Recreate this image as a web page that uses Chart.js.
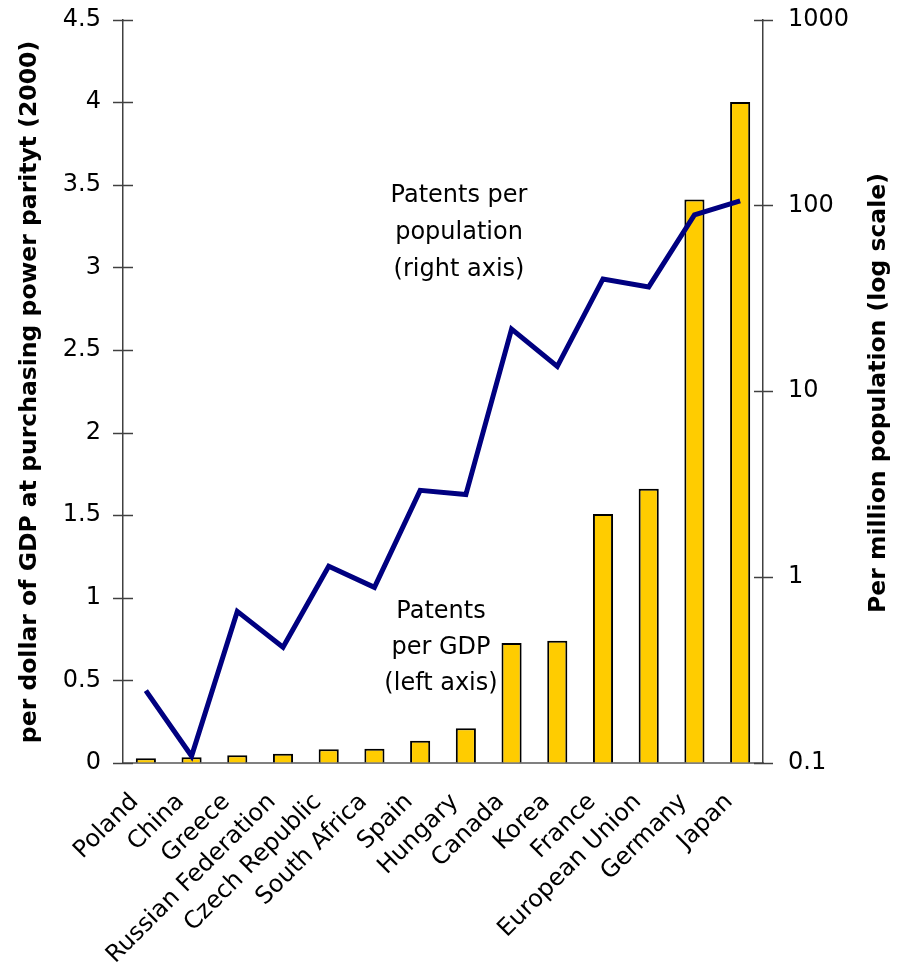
<!DOCTYPE html>
<html>
<head>
<meta charset="utf-8">
<script src="https://cdn.jsdelivr.net/npm/chart.js@4.4.1/dist/chart.umd.min.js"></script>
<style>
  html, body { margin: 0; padding: 0; background: #ffffff; }
  #wrap { width: 898px; height: 980px; position: relative; }
</style>
</head>
<body>
<div id="wrap"><canvas id="chart" width="898" height="980"></canvas></div>
<script>
// Countries along the x axis
const countries = ['Poland', 'China', 'Greece', 'Russian Federation', 'Czech Republic',
  'South Africa', 'Spain', 'Hungary', 'Canada', 'Korea', 'France',
  'European Union', 'Germany', 'Japan'];

// Patents per dollar of GDP at PPP (2000) – left axis, bars
const patentsPerGdp = [0.028, 0.035, 0.047, 0.056, 0.083, 0.087, 0.135, 0.21,
  0.727, 0.74, 1.507, 1.66, 3.41, 4.0];

// Patents per million population – right axis (log), line
const patentsPerPopulation = [0.245, 0.109, 0.654, 0.42, 1.143, 0.881, 2.93, 2.78,
  21.6, 13.6, 40.2, 36.4, 88.9, 105.7];

// Tick values
const leftTicks = [0, 0.5, 1, 1.5, 2, 2.5, 3, 3.5, 4, 4.5];
const rightTicks = [0.1, 1, 10, 100, 1000];

// Axis titles and in-chart notes
const leftTitle = 'per dollar of GDP at purchasing power parityt (2000)';
const rightTitle = 'Per million population (log scale)';
const populationNote = ['Patents per', 'population', '(right axis)'];
const gdpNote = ['Patents', 'per GDP', '(left axis)'];

const FONT = '"DejaVu Sans", "Liberation Sans", Arial, sans-serif';

// Cross-through tick marks on both value axes, plus titles and notes
const decorations = {
  id: 'decorations',
  afterDraw(chart) {
    const ctx = chart.ctx;
    const yL = chart.scales.yLeft;
    const yR = chart.scales.yRight;
    ctx.save();
    ctx.strokeStyle = '#404040';
    ctx.lineWidth = 1.5;
    leftTicks.forEach(v => {
      const y = Math.round(yL.getPixelForValue(v)) + 0.5;
      ctx.beginPath();
      ctx.moveTo(yL.right - 10, y);
      ctx.lineTo(yL.right + 10, y);
      ctx.stroke();
    });
    rightTicks.forEach(v => {
      const y = Math.round(yR.getPixelForValue(v)) + 0.5;
      ctx.beginPath();
      ctx.moveTo(yR.left - 9, y);
      ctx.lineTo(yR.left + 10, y);
      ctx.stroke();
    });

    ctx.fillStyle = '#000';
    ctx.textAlign = 'center';
    ctx.textBaseline = 'middle';
    ctx.font = 'bold 23.5px ' + FONT;
    ctx.save();
    ctx.translate(30, 392);
    ctx.rotate(-Math.PI / 2);
    ctx.fillText(leftTitle, 0, 0);
    ctx.restore();
    ctx.save();
    ctx.translate(879, 393);
    ctx.rotate(-Math.PI / 2);
    ctx.fillText(rightTitle, 0, 0);
    ctx.restore();

    ctx.font = '24px ' + FONT;
    populationNote.forEach((t, i) => ctx.fillText(t, 459, 196 + i * 37));
    gdpNote.forEach((t, i) => ctx.fillText(t, 441, 612 + i * 36));
    ctx.restore();
  }
};

// Tick marks themselves come from the decorations plugin; the scale's own
// (invisible) tick length only sets the gap between axis line and labels.
const hiddenTickGrid = len => ({
  display: true,
  drawOnChartArea: false,
  drawTicks: true,
  tickLength: len,
  color: 'rgba(0,0,0,0)'
});

new Chart(document.getElementById('chart'), {
  data: {
    labels: countries,
    datasets: [
      {
        type: 'line',
        label: 'Patents per population',
        data: patentsPerPopulation,
        yAxisID: 'yRight',
        borderColor: '#000080',
        borderWidth: 5,
        pointRadius: 0,
        tension: 0,
        fill: false,
        order: 0
      },
      {
        type: 'bar',
        label: 'Patents per GDP',
        data: patentsPerGdp,
        yAxisID: 'yLeft',
        backgroundColor: '#FFCC00',
        borderColor: '#000000',
        borderWidth: 2,
        borderSkipped: 'bottom',
        categoryPercentage: 1,
        barPercentage: 0.44,
        order: 1
      }
    ]
  },
  options: {
    responsive: false,
    animation: false,
    layout: { padding: { top: 19.5, bottom: 0, left: 0, right: 0 } },
    plugins: { legend: { display: false }, tooltip: { enabled: false } },
    scales: {
      x: {
        grid: { display: false },
        border: { display: true, color: '#808080', width: 2 },
        ticks: {
          color: '#000',
          font: { family: FONT, size: 24 },
          minRotation: 45,
          maxRotation: 45,
          autoSkip: false,
          padding: 17,
          labelOffset: -11
        },
        afterFit(scale) { scale.height = 217; }
      },
      yLeft: {
        position: 'left',
        min: 0,
        max: 4.5,
        grid: hiddenTickGrid(22),
        border: { display: true, color: '#404040', width: 1.5 },
        afterBuildTicks(scale) { scale.ticks = leftTicks.map(v => ({ value: v })); },
        ticks: {
          color: '#000',
          font: { family: FONT, size: 24 },
          padding: 0,
          callback: v => String(v)
        },
        afterFit(scale) { scale.width = 123; }
      },
      yRight: {
        type: 'logarithmic',
        position: 'right',
        min: 0.1,
        max: 1000,
        grid: hiddenTickGrid(25),
        border: { display: true, color: '#404040', width: 1.5 },
        afterBuildTicks(scale) { scale.ticks = rightTicks.map(v => ({ value: v })); },
        ticks: {
          color: '#000',
          font: { family: FONT, size: 24 },
          padding: 0,
          callback: v => String(v)
        },
        afterFit(scale) { scale.width = 135; }
      }
    }
  },
  plugins: [decorations]
});
</script>
</body>
</html>
